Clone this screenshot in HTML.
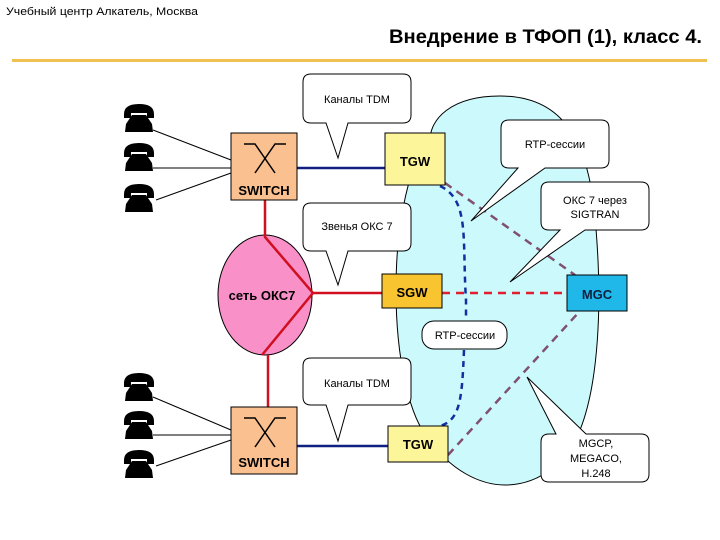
<!DOCTYPE html>
<html><head><meta charset="utf-8"><style>
body{margin:0;background:#fff;width:720px;height:540px;overflow:hidden}
svg{display:block;font-family:"Liberation Sans",sans-serif}
</style></head><body>
<svg width="720" height="540" viewBox="0 0 720 540">
<defs>
<g id="ph">
<path d="M2,10 Q2,0 17,0 Q32,0 32,10 L32,14 L25,14 L25,9 L9,9 L9,14 L2,14 Z" fill="#000"/>
<path d="M10,11 L24,11 L30,20 L31,28 L3,28 L4,20 Z" fill="#000"/>
</g>
</defs>
<text x="6" y="15" font-size="11" textLength="192" lengthAdjust="spacingAndGlyphs">Учебный центр Алкатель, Москва</text>
<text x="702" y="43" font-size="19" font-weight="bold" text-anchor="end" textLength="313" lengthAdjust="spacingAndGlyphs">Внедрение в ТФОП (1), класс 4.</text>
<rect x="12" y="59" width="695" height="3" fill="#f0c050"/>

<path d="M500,96 C450,96 430,120 430,140 C410,160 396,220 396,290 C396,360 410,420 430,440 C450,470 480,485 505,485 C540,485 570,460 580,430 C600,380 600,300 598,260 C595,200 590,160 570,130 C550,100 520,96 500,96 Z" fill="#ccf9fb" stroke="#000" stroke-width="1"/>

<g stroke="#000" stroke-width="1">
<line x1="153" y1="130" x2="231" y2="160"/><line x1="153" y1="168" x2="231" y2="168"/><line x1="156" y1="200" x2="231" y2="173"/>
<line x1="153" y1="397" x2="231" y2="430"/><line x1="153" y1="435" x2="231" y2="435"/><line x1="156" y1="466" x2="231" y2="440"/>
</g>
<use href="#ph" x="122" y="104"/><use href="#ph" x="122" y="143"/><use href="#ph" x="122" y="184"/>
<use href="#ph" x="122" y="373"/><use href="#ph" x="122" y="411"/><use href="#ph" x="122" y="450"/>

<ellipse cx="265" cy="295" rx="47" ry="60" fill="#f990c8" stroke="#000"/>
<g stroke="#d01020" stroke-width="2.5" fill="none">
<path d="M265,200 L265,237 L313,293 L262,355"/>
<line x1="313" y1="293" x2="382" y2="293"/>
<line x1="268" y1="355" x2="268" y2="407"/>
</g>
<text x="262" y="300" font-size="13" font-weight="bold" text-anchor="middle">сеть ОКС7</text>

<line x1="297" y1="168" x2="385" y2="168" stroke="#102080" stroke-width="2.5"/>
<line x1="297" y1="446" x2="388" y2="446" stroke="#102080" stroke-width="2.5"/>

<g fill="none" stroke-width="2.5" stroke-dasharray="8,6">
<line x1="445" y1="183" x2="575" y2="275" stroke="#805070"/>
<line x1="448" y1="455" x2="580" y2="311" stroke="#805070"/>
<line x1="442" y1="293" x2="567" y2="293" stroke="#e02030"/>
<path d="M440,186 C470,200 462,240 466,300 L466,320" stroke="#1030a0" stroke-dasharray="6,5"/>
<path d="M464,350 C462,400 460,420 440,426" stroke="#1030a0" stroke-dasharray="6,5"/>
</g>

<rect x="231" y="133" width="66" height="67" fill="#fac090" stroke="#000"/>
<path d="M244,144 L255,144 L275,173 M286,144 L275,144 L255,173" stroke="#000" stroke-width="1.5" fill="none"/>
<text x="264" y="195" font-size="13" font-weight="bold" text-anchor="middle">SWITCH</text>
<rect x="231" y="407" width="66" height="67" fill="#fac090" stroke="#000"/>
<path d="M244,418 L255,418 L275,447 M286,418 L275,418 L255,447" stroke="#000" stroke-width="1.5" fill="none"/>
<text x="264" y="467" font-size="13" font-weight="bold" text-anchor="middle">SWITCH</text>

<rect x="385" y="133" width="60" height="52" fill="#fdf59a" stroke="#000"/>
<text x="415" y="166" font-size="13" font-weight="bold" text-anchor="middle">TGW</text>
<rect x="382" y="274" width="60" height="34" fill="#f8c430" stroke="#000"/>
<text x="412" y="297" font-size="13" font-weight="bold" text-anchor="middle">SGW</text>
<rect x="567" y="275" width="60" height="36" fill="#20b8e8" stroke="#000"/>
<text x="597" y="299" font-size="13" font-weight="bold" text-anchor="middle" fill="#102040">MGC</text>
<rect x="388" y="426" width="60" height="36" fill="#fdf59a" stroke="#000"/>
<text x="418" y="449" font-size="13" font-weight="bold" text-anchor="middle">TGW</text>

<g fill="#fff" stroke="#000" stroke-width="1" font-size="11">
<path d="M311,74 H403 Q411,74 411,82 V115 Q411,123 403,123 H348 L338,158 L326,123 H311 Q303,123 303,115 V82 Q303,74 311,74 Z"/>
<path d="M311,203 H403 Q411,203 411,211 V243 Q411,251 403,251 H348 L338,285 L326,251 H311 Q303,251 303,243 V211 Q303,203 311,203 Z"/>
<path d="M311,358 H403 Q411,358 411,366 V397 Q411,405 403,405 H348 L338,441 L326,405 H311 Q303,405 303,397 V366 Q303,358 311,358 Z"/>
<path d="M509,120 H601 Q609,120 609,128 V160 Q609,168 601,168 H545 L471,221 L518,168 H509 Q501,168 501,160 V128 Q501,120 509,120 Z"/>
<path d="M549,182 H641 Q649,182 649,190 V222 Q649,230 641,230 H585 L510,282 L560,230 H549 Q541,230 541,222 V190 Q541,182 549,182 Z"/>
<path d="M549,434 H556 L527,377 L586,434 H641 Q649,434 649,442 V474 Q649,482 641,482 H549 Q541,482 541,474 V442 Q541,434 549,434 Z"/>
<rect x="422" y="321" width="85" height="28" rx="12" ry="12"/>
</g>
<g font-size="11" text-anchor="middle" fill="#000">
<text x="357" y="103">Каналы TDM</text>
<text x="357" y="230">Звенья ОКС 7</text>
<text x="357" y="387">Каналы TDM</text>
<text x="555" y="148">RTP-сессии</text>
<text x="595" y="204">ОКС 7 через</text>
<text x="595" y="218">SIGTRAN</text>
<text x="465" y="339">RTP-сессии</text>
<text x="596" y="447">MGCP,</text>
<text x="596" y="462">MEGACO,</text>
<text x="596" y="477">H.248</text>
</g>
</svg>
</body></html>
